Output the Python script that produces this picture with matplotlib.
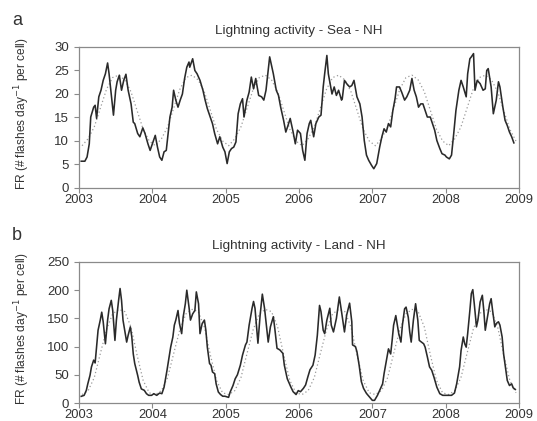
import numpy as np
import matplotlib
matplotlib.use("Agg")
import matplotlib.pyplot as plt

plt.rcParams['font.family'] = ['Liberation Sans', 'DejaVu Sans']

# ---------------- data ----------------
sea_t = [2003.03, 2003.08, 2003.11, 2003.14, 2003.16, 2003.20, 2003.22, 2003.24, 2003.27, 2003.30,
         2003.33, 2003.36, 2003.39, 2003.41, 2003.44, 2003.47, 2003.50, 2003.52, 2003.55, 2003.58,
         2003.61, 2003.64, 2003.67, 2003.71, 2003.74, 2003.76, 2003.80, 2003.83, 2003.87, 2003.90,
         2003.94, 2003.97, 2004.00, 2004.04, 2004.07, 2004.10, 2004.13, 2004.16, 2004.19, 2004.21,
         2004.24, 2004.27, 2004.29, 2004.32, 2004.35, 2004.38, 2004.41, 2004.44, 2004.47, 2004.50,
         2004.51, 2004.55, 2004.58, 2004.61, 2004.65, 2004.69, 2004.72, 2004.75, 2004.79, 2004.82,
         2004.85, 2004.89, 2004.92, 2004.96, 2004.99, 2005.02, 2005.05, 2005.08, 2005.11, 2005.14,
         2005.17, 2005.20, 2005.23, 2005.25, 2005.29, 2005.32, 2005.35, 2005.38, 2005.41, 2005.45,
         2005.49, 2005.52, 2005.55, 2005.57, 2005.60, 2005.62, 2005.65, 2005.69, 2005.72, 2005.75,
         2005.79, 2005.82, 2005.85, 2005.88, 2005.92, 2005.95, 2005.98, 2006.02, 2006.05, 2006.08,
         2006.11, 2006.14, 2006.16, 2006.20, 2006.23, 2006.27, 2006.30, 2006.33, 2006.35, 2006.38,
         2006.40, 2006.45, 2006.48, 2006.51, 2006.54, 2006.58, 2006.59, 2006.62, 2006.65, 2006.69,
         2006.72, 2006.75, 2006.79, 2006.83, 2006.86, 2006.89, 2006.92, 2006.95, 2006.99, 2007.02,
         2007.06, 2007.10, 2007.13, 2007.16, 2007.19, 2007.22, 2007.25, 2007.28, 2007.31, 2007.33,
         2007.37, 2007.40, 2007.44, 2007.47, 2007.51, 2007.54, 2007.57, 2007.60, 2007.63, 2007.66,
         2007.69, 2007.72, 2007.75, 2007.79, 2007.82, 2007.85, 2007.88, 2007.92, 2007.95, 2007.99,
         2008.01, 2008.05, 2008.08, 2008.11, 2008.14, 2008.18, 2008.21, 2008.24, 2008.28, 2008.30,
         2008.33, 2008.35, 2008.38, 2008.40, 2008.43, 2008.47, 2008.51, 2008.54, 2008.56, 2008.58,
         2008.62, 2008.65, 2008.69, 2008.72, 2008.74, 2008.78, 2008.81, 2008.84, 2008.87, 2008.90,
         2008.93]
sea_fr = [5.7, 5.7, 6.6, 9.4, 15.1, 17.2, 17.6, 14.8, 19.4, 20.8,
          22.9, 24.3, 26.6, 24.3, 20.0, 15.5, 20.8, 22.6, 24.0, 20.8,
          22.9, 24.2, 20.8, 17.9, 14.0, 13.7, 11.6, 10.9, 12.8, 11.6,
          9.4, 8.0, 9.4, 11.2, 8.7, 6.6, 5.9, 7.7, 8.0, 10.9,
          15.1, 17.2, 20.8, 18.7, 17.2, 18.7, 20.0, 23.3, 25.7, 26.8,
          25.7, 27.5, 25.0, 24.3, 22.9, 20.8, 18.7, 16.9, 15.1, 13.7,
          11.6, 9.4, 10.9, 8.7, 7.7, 5.2, 7.7, 8.4, 8.7, 9.8,
          15.8, 17.9, 19.0, 15.1, 18.7, 20.4, 23.6, 21.1, 23.3, 19.7,
          19.4, 18.7, 20.8, 23.6, 27.9, 26.5, 24.3, 20.8, 19.7, 17.2,
          14.4, 11.9, 13.3, 14.8, 11.9, 9.4, 12.3, 11.6, 8.0, 5.9,
          11.6, 13.7, 14.4, 10.9, 13.7, 15.1, 15.5, 21.5, 24.3, 28.2,
          24.3, 20.0, 21.5, 19.7, 20.8, 18.7, 19.0, 22.9, 22.2, 21.5,
          21.8, 22.9, 19.4, 17.9, 15.1, 10.1, 7.0, 5.9, 4.8, 4.1,
          5.2, 8.7, 10.9, 12.6, 11.9, 13.7, 13.0, 16.5, 19.0, 21.5,
          21.5, 20.4, 18.7, 19.4, 20.8, 23.3, 20.8, 19.4, 17.2, 17.9,
          17.9, 16.5, 15.1, 15.1, 13.7, 12.3, 10.1, 8.4, 7.3, 7.0,
          6.6, 6.2, 7.0, 11.6, 16.5, 20.8, 22.9, 21.5, 19.4, 24.3,
          27.5, 27.9, 28.6, 20.8, 22.9, 22.2, 20.8, 21.1, 25.0, 25.4,
          21.5, 15.8, 18.7, 22.6, 21.5, 17.2, 14.4, 13.3, 11.9, 10.9,
          9.6]

land_t = [2003.03, 2003.07, 2003.10, 2003.12, 2003.15, 2003.17, 2003.20, 2003.22, 2003.24, 2003.26,
          2003.29, 2003.31, 2003.33, 2003.36, 2003.39, 2003.41, 2003.44, 2003.46, 2003.49, 2003.51,
          2003.54, 2003.56, 2003.58, 2003.60, 2003.63, 2003.65, 2003.67, 2003.70, 2003.72, 2003.74,
          2003.76, 2003.80, 2003.82, 2003.85, 2003.89, 2003.92, 2003.95, 2003.99, 2004.02, 2004.06,
          2004.10, 2004.13, 2004.16, 2004.20, 2004.23, 2004.25, 2004.28, 2004.30, 2004.32, 2004.35,
          2004.37, 2004.40, 2004.42, 2004.45, 2004.47, 2004.50, 2004.52, 2004.55, 2004.58, 2004.60,
          2004.63, 2004.65, 2004.68, 2004.71, 2004.73, 2004.75, 2004.78, 2004.80, 2004.82, 2004.85,
          2004.87, 2004.90, 2004.93, 2004.96, 2004.99, 2005.04, 2005.06, 2005.10, 2005.13, 2005.16,
          2005.20, 2005.23, 2005.27, 2005.29, 2005.32, 2005.36, 2005.38, 2005.40, 2005.44, 2005.47,
          2005.50, 2005.53, 2005.58, 2005.61, 2005.65, 2005.67, 2005.70, 2005.74, 2005.78, 2005.80,
          2005.84, 2005.87, 2005.89, 2005.92, 2005.96, 2005.99, 2006.02, 2006.06, 2006.09, 2006.12,
          2006.15, 2006.19, 2006.22, 2006.25, 2006.28, 2006.30, 2006.33, 2006.35, 2006.38, 2006.42,
          2006.44, 2006.47, 2006.51, 2006.55, 2006.58, 2006.62, 2006.65, 2006.69, 2006.72, 2006.73,
          2006.77, 2006.79, 2006.82, 2006.85, 2006.88, 2006.92, 2006.97, 2007.00, 2007.03, 2007.07,
          2007.10, 2007.14, 2007.16, 2007.20, 2007.22, 2007.25, 2007.27, 2007.29, 2007.32, 2007.33,
          2007.36, 2007.39, 2007.41, 2007.44, 2007.46, 2007.49, 2007.51, 2007.53, 2007.56, 2007.59,
          2007.62, 2007.64, 2007.67, 2007.70, 2007.72, 2007.75, 2007.78, 2007.81, 2007.84, 2007.88,
          2007.92, 2007.96, 2008.00, 2008.04, 2008.08, 2008.12, 2008.15, 2008.19, 2008.21, 2008.24,
          2008.26, 2008.28, 2008.30, 2008.33, 2008.35, 2008.37, 2008.39, 2008.42, 2008.44, 2008.47,
          2008.50, 2008.52, 2008.54, 2008.57, 2008.60, 2008.62, 2008.64, 2008.67, 2008.69, 2008.72,
          2008.74, 2008.77, 2008.79, 2008.82, 2008.84, 2008.87, 2008.90, 2008.92, 2008.95]
land_fr = [11.8, 13.6, 22.5, 34, 49, 64, 76, 71, 99, 129,
           147, 161, 144, 105, 147, 167, 182, 164, 111, 147,
           182, 203, 182, 147, 123, 108, 120, 135, 117, 87,
           70, 49, 37, 25, 22.5, 16.5, 13.6, 13.6, 16.5, 13.6,
           17.7, 16.5, 28, 58, 82, 99, 117, 138, 147, 164,
           141, 123, 152, 176, 200, 170, 147, 158, 164, 197,
           176, 123, 141, 147, 129, 99, 70, 67, 55, 52,
           34, 19.5, 15, 12, 12, 10, 19, 31, 43, 50,
           67, 85, 103, 108, 138, 168, 180, 168, 106, 156,
           193, 168, 108, 135, 153, 132, 97, 94, 88, 67,
           43, 34, 28, 20, 15, 22, 20, 26, 32, 46,
           59, 67, 85, 120, 173, 162, 129, 123, 147, 168,
           138, 126, 150, 188, 162, 126, 156, 177, 144, 103,
           100, 91, 67, 38, 26, 17, 9.5, 4.7, 4.7, 13.6,
           22.5, 34, 52, 82, 96, 87, 111, 138, 155, 147,
           123, 108, 138, 167, 170, 152, 126, 108, 147, 176,
           147, 111, 108, 105, 99, 82, 64, 58, 46, 28,
           16.5, 13.6, 13.6, 13.6, 13.6, 17.7, 34, 64, 93, 117,
           105, 99, 123, 164, 194, 201, 176, 135, 147, 179,
           191, 164, 129, 152, 176, 185, 164, 135, 141, 144,
           138, 117, 87, 58, 40, 31, 34, 27, 24]

# monthly climatology (dotted line), repeated each year
years = [2003, 2004, 2005, 2006, 2007, 2008]
sea_clim = [9.0, 10.5, 13.0, 17.0, 21.0, 23.5, 24.0, 23.0, 20.5, 16.5, 12.5, 10.0]
land_clim = [15, 22, 45, 88, 130, 158, 166, 162, 135, 85, 40, 18]

titles = ["Lightning activity - Sea - NH", "Lightning activity - Land - NH"]
panel_letters = ["a", "b"]
xticks = [2003, 2004, 2005, 2006, 2007, 2008, 2009]
sea_yticks = [0, 5, 10, 15, 20, 25, 30]
land_yticks = [0, 50, 100, 150, 200, 250]
ylabel = "FR (# flashes day$^{-1}$ per cell)"

# ---------------- figure ----------------
W, H = 537, 421
fig = plt.figure(figsize=(W / 100, H / 100), dpi=100)

clim_t = np.array([y + (m + 0.5) / 12 for y in years for m in range(12)])

def make_axes(top_px, bottom_px):
    left, right = 79, 519
    return fig.add_axes([left / W, 1 - bottom_px / H, (right - left) / W, (bottom_px - top_px) / H])

ax1 = make_axes(47, 188)
ax2 = make_axes(262, 403)

spine_c = "#8a8a8a"
text_c = "#333333"

for ax, t, v, clim, yt, ttl, letter in [
        (ax1, sea_t, sea_fr, sea_clim, sea_yticks, titles[0], panel_letters[0]),
        (ax2, land_t, land_fr, land_clim, land_yticks, titles[1], panel_letters[1])]:
    ax.plot(clim_t, np.tile(clim, len(years)), linestyle=(0, (1, 2)), color="#9a9a9a", lw=0.9)
    ax.plot(t, v, color="#2a2a2a", lw=1.15)
    ax.set_xlim(2003, 2009)
    ax.set_ylim(yt[0], yt[-1])
    ax.set_xticks(xticks)
    ax.set_yticks(yt)
    ax.tick_params(direction="out", length=3.5, width=0.8, color=spine_c,
                   labelsize=9.5, labelcolor=text_c)
    ax.tick_params(axis="y", pad=3.5)
    ax.tick_params(axis="x", pad=0.8, labelsize=9.3)
    for s in ax.spines.values():
        s.set_color(spine_c)
        s.set_linewidth(0.9)
    ax.set_title(ttl, fontsize=9.7, color=text_c, pad=9)
    ax.set_ylabel(ylabel, fontsize=8.6, color=text_c)
    ax.yaxis.set_label_coords(-0.107, 0.525)

fig.text(12 / W, 1 - 25 / H, panel_letters[0], fontsize=13, color=text_c)
fig.text(12 / W, 1 - 240 / H, panel_letters[1], fontsize=13, color=text_c)

fig.savefig("out.png", dpi=100)
